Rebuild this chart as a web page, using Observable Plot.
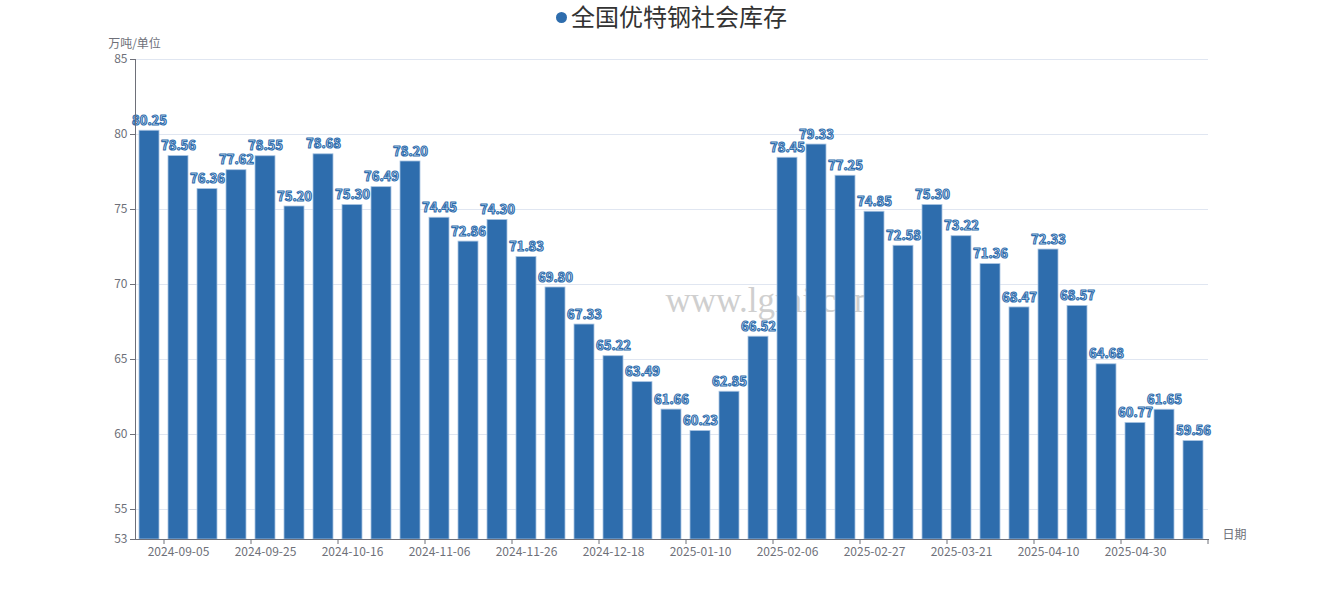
<!DOCTYPE html>
<html>
<head>
<meta charset="utf-8">
<script src="https://cdn.jsdelivr.net/npm/d3@7"></script>
<script src="https://cdn.jsdelivr.net/npm/@observablehq/plot@0.6"></script>
<style>
  body { margin: 0; background: #fff; font-family: "Noto Sans CJK SC", "Noto Sans", sans-serif; }
  #wrap { position: relative; width: 1343px; height: 610px; }
  #title { position: absolute; left: 0; top: 0; width: 1343px; text-align: center; font-size: 24px; line-height: 32px; color: #333; }
  #title .dot { display: inline-block; width: 11px; height: 11px; border-radius: 50%; background: #2e6dad; margin-right: 4px; vertical-align: 3px; }
  #chart { position: absolute; left: 0; top: 0; }
</style>
</head>
<body>
<div id="wrap">
  <div id="chart"></div>
  <div id="title"><span class="dot"></span>全国优特钢社会库存</div>
</div>
<script>
const dates = [
  "2024-08-29","2024-09-05","2024-09-12","2024-09-19","2024-09-25","2024-10-09","2024-10-11",
  "2024-10-16","2024-10-24","2024-10-31","2024-11-06","2024-11-14","2024-11-21","2024-11-26",
  "2024-12-05","2024-12-12","2024-12-18","2024-12-26","2025-01-03","2025-01-10","2025-01-17",
  "2025-01-23","2025-02-06","2025-02-13","2025-02-20","2025-02-27","2025-03-06","2025-03-13",
  "2025-03-21","2025-03-27","2025-04-03","2025-04-10","2025-04-17","2025-04-24","2025-04-30",
  "2025-05-08","2025-05-15"
];
const values = [
  80.25,78.56,76.36,77.62,78.55,75.20,78.68,75.30,76.49,78.20,74.45,72.86,74.30,71.83,
  69.80,67.33,65.22,63.49,61.66,60.23,62.85,66.52,78.45,79.33,77.25,74.85,72.58,75.30,
  73.22,71.36,68.47,72.33,68.57,64.68,60.77,61.65,59.56
];
const tickDates = ["2024-09-05","2024-09-25","2024-10-16","2024-11-06","2024-11-26","2024-12-18",
  "2025-01-10","2025-02-06","2025-02-27","2025-03-21","2025-04-10","2025-04-30"];
const yTicks = [53,55,60,65,70,75,80,85];
const gridTicks = [55,60,65,70,75,80,85];
const yLabel = "万吨/单位";
const xLabel = "日期";
const watermark = "www.lgmi.com";

const data = dates.map((d, i) => ({date: d, value: values[i]}));
const axisColor = "#6e7079";
const barColor = "#2e6dad";
const font = "'Noto Sans CJK SC', 'Noto Sans', sans-serif";

const plot = Plot.plot({
  width: 1343,
  height: 610,
  marginLeft: 135,
  marginRight: 135,
  marginTop: 59,
  marginBottom: 71,
  style: {fontFamily: font, fontSize: "12px", color: axisColor, background: "transparent"},
  x: {type: "band", domain: dates, paddingInner: 0.31, paddingOuter: 0.155, axis: null},
  y: {domain: [53, 85], axis: null},
  marks: [
    Plot.gridY(gridTicks, {stroke: "#e0e6f1", strokeOpacity: 1, strokeWidth: 1}),
    Plot.text([watermark], {frameAnchor: "top-left", dx: 530, dy: 228, textAnchor: "start",
      fontFamily: "'Liberation Serif', serif", fontSize: 35, fill: "#cfcfcf"}),
    Plot.barY(data, {x: "date", y1: 53, y2: "value", fill: barColor, stroke: "#a8c4e2", strokeWidth: 0.8}),
    Plot.text(data, {x: "date", y: "value", text: d => d.value.toFixed(2), dy: -10,
      fontSize: 13, fontWeight: "bold", fill: "#e6eef8", stroke: barColor, strokeWidth: 1.1,
      paintOrder: "fill"}),
    Plot.axisY({ticks: yTicks, tickSize: 5, tickPadding: 3, stroke: axisColor, fill: axisColor,
      label: null, fontSize: 12}),
    Plot.frame({anchor: "left", stroke: axisColor}),
    Plot.frame({anchor: "bottom", stroke: axisColor}),
    Plot.axisX({ticks: tickDates, tickSize: 0, tickPadding: 8, fill: axisColor, label: null, fontSize: 12}),
    Plot.axisX({ticks: tickDates, tickSize: 5, text: null, dx: -14.5, stroke: axisColor, label: null}),
    Plot.axisX({ticks: [dates[dates.length - 1]], tickSize: 5, text: null, dx: 14.5, stroke: axisColor, label: null}),
    Plot.text([yLabel], {frameAnchor: "top-left", dy: -20, dx: -1, textAnchor: "middle", fill: axisColor, fontSize: 12}),
    Plot.text([xLabel], {frameAnchor: "bottom-right", dx: 14, dy: -1, textAnchor: "start", fill: axisColor, fontSize: 12})
  ]
});
document.getElementById("chart").appendChild(plot);
</script>
</body>
</html>
